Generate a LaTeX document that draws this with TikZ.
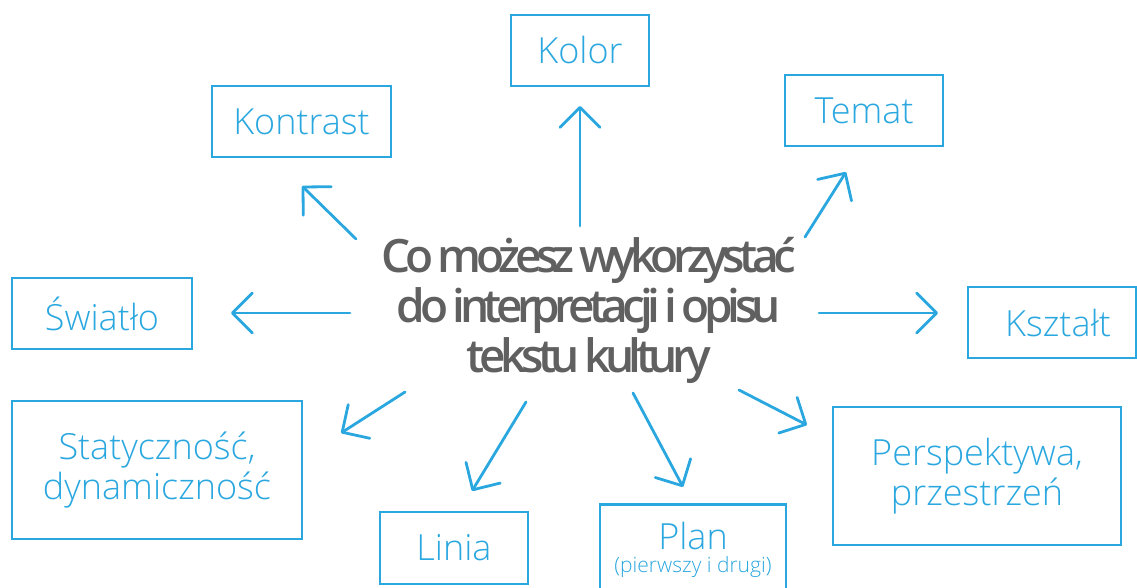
\documentclass[tikz,border=0pt]{standalone}
\usepackage{fontspec}
\setmainfont{Open Sans}
\newfontfamily\boxfont{Open Sans Light}
\newfontfamily\headfont[LetterSpace=-12, WordSpace=0.7]{Open Sans Semibold}
\usetikzlibrary{arrows.meta}
\definecolor{bl}{RGB}{42,167,223}
\definecolor{hd}{RGB}{96,96,96}
\tikzset{
  box/.style={draw=bl, line width=2.6pt, text=bl, align=center, inner sep=0pt,
    font=\boxfont\fontsize{36}{40.5}\selectfont},
  arr/.style={draw=bl, line width=2.8pt, line cap=round, line join=round,
    -{Straight Barb[length=20pt, width=40pt, line width=2.8pt, round]}},
}
\begin{document}
\begin{tikzpicture}[x=1pt,y=-1pt]
\useasboundingbox (0,0) rectangle (1137,588);
\clip (0,0) rectangle (1137,588);
% boxes
\node[box, minimum width=138pt, minimum height=71pt] (kolor) at (580,50.5) {Kolor};
\node[box, minimum width=179pt, minimum height=71pt] (kontrast) at (301.5,121.5) {Kontrast};
\node[box, minimum width=158pt, minimum height=71pt] (temat) at (864,110.5) {Temat};
\node[box, minimum width=180pt, minimum height=71pt] (swiatlo) at (102,313.5) {Światło};
\node[box, minimum width=168pt, minimum height=71pt] (ksztalt) at (1052,322.5) {\hspace*{12pt}Kształt};
\node[box, minimum width=290pt, minimum height=138pt] (statycznosc) at (157,470) {Statyczność,\\dynamiczność};
\node[box, minimum width=148pt, minimum height=72pt] (linia) at (454,548) {Linia};
\node[box, minimum width=186pt, minimum height=100pt, anchor=north] (plan) at (693,503) {};
\node[text=bl, align=center, inner sep=0pt, font=\boxfont\fontsize{36}{36}\selectfont] (plantxt) at (693,536) {Plan};
\node[text=bl, align=center, inner sep=0pt, font=\boxfont\fontsize{21}{24}\selectfont] (plansub) at (693,567) {(pierwszy i drugi)};
\node[box, minimum width=288pt, minimum height=138pt] (persp) at (977,476) {Perspektywa,\\przestrzeń};
% centre
\node[text=hd, align=center, font=\headfont\fontsize{46}{50}\selectfont] (centre) at (589,310)
  {Co możesz wykorzystać\\do interpretacji i opisu\\tekstu kultury};
% arrow ends
\coordinate (a1s) at (580,226);  \coordinate (a1e) at (580,106);
\coordinate (a2s) at (356,239);  \coordinate (a2e) at (302,186);
\coordinate (a3s) at (805,237);  \coordinate (a3e) at (846,172);
\coordinate (a4s) at (350,313);  \coordinate (a4e) at (231,313);
\coordinate (a5s) at (819,313);  \coordinate (a5e) at (938,313);
\coordinate (a6s) at (405,392);  \coordinate (a6e) at (341,433);
\coordinate (a7s) at (526,402);  \coordinate (a7e) at (472,491);
\coordinate (a8s) at (633,393);  \coordinate (a8e) at (683,487);
\coordinate (a9s) at (739,390);  \coordinate (a9e) at (807,425);
\foreach \i in {1,...,9} {\draw[arr] (a\i s) -- (a\i e);}
\end{tikzpicture}
\end{document}
